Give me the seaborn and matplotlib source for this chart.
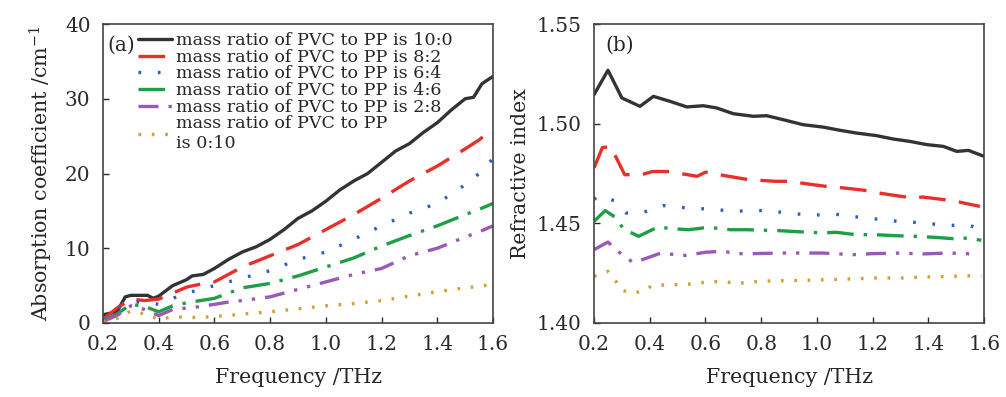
import pandas as pd
import matplotlib.pyplot as plt
import seaborn as sns

# Datos (a): coeficiente de absorcion
freq_a = [0.2, 0.25, 0.28, 0.3, 0.33, 0.36, 0.38, 0.4, 0.45, 0.5, 0.52, 0.56, 0.6, 0.65, 0.7, 0.75,
          0.8, 0.85, 0.9, 0.95, 1.0, 1.05, 1.1, 1.15, 1.2, 1.25, 1.3, 1.35, 1.4, 1.45, 1.5, 1.53, 1.56, 1.6]
abs_100 = [1.1, 1.5, 3.5, 3.7, 3.7, 3.7, 3.3, 3.6, 5.0, 5.8, 6.3, 6.5, 7.3, 8.5, 9.5, 10.2,
           11.2, 12.5, 14.0, 15.0, 16.3, 17.8, 19.0, 20.0, 21.5, 23.0, 24.0, 25.5, 26.8, 28.5, 30.0, 30.2, 32.0, 33.0]

freq_b5 = [0.2, 0.25, 0.3, 0.35, 0.4, 0.45, 0.5, 0.55, 0.6, 0.65, 0.7, 0.8, 0.9, 1.0, 1.1, 1.2, 1.3, 1.4, 1.5, 1.55, 1.6]
abs_82 = [0.5, 2.0, 3.2, 3.0, 3.2, 4.0, 4.8, 5.2, 5.5, 6.5, 7.5, 9.0, 10.5, 12.5, 14.5, 16.7, 19.0, 21.0, 23.3, 24.5, 26.0]
abs_64 = [0.5, 2.0, 2.8, 2.8, 2.5, 3.3, 4.0, 4.5, 5.0, 5.5, 6.0, 7.0, 8.5, 9.5, 11.2, 13.0, 14.7, 16.0, 18.5, 20.0, 22.0]
abs_46 = [0.3, 1.2, 2.5, 2.2, 1.5, 2.3, 2.7, 3.0, 3.3, 4.0, 4.7, 5.3, 6.3, 7.5, 8.7, 10.3, 11.7, 13.0, 14.5, 15.2, 16.0]
abs_28 = [0.2, 1.0, 2.3, 1.8, 1.0, 1.8, 2.0, 2.2, 2.5, 2.8, 3.0, 3.5, 4.5, 5.5, 6.5, 7.3, 9.0, 10.0, 11.5, 12.2, 13.0]
abs_010 = [0.1, 0.6, 1.6, 1.2, 0.5, 0.8, 0.8, 0.7, 0.9, 1.0, 1.2, 1.5, 1.9, 2.3, 2.6, 3.0, 3.6, 4.2, 4.7, 4.9, 5.2]

# Datos (b): indice de refraccion
freq_n0 = [0.2, 0.25, 0.3, 0.365, 0.413, 0.473, 0.533, 0.592, 0.64, 0.7, 0.772, 0.82, 0.879, 0.95,
           1.022, 1.082, 1.142, 1.214, 1.274, 1.334, 1.394, 1.454, 1.502, 1.544, 1.6]
n_100 = [1.5146, 1.5268, 1.5129, 1.5087, 1.5137, 1.5112, 1.5084, 1.509, 1.5079, 1.505, 1.5037, 1.504, 1.502, 1.4995,
         1.4983, 1.4967, 1.4953, 1.494, 1.4923, 1.4911, 1.4895, 1.4886, 1.4861, 1.4866, 1.4836]

freq_n1 = [0.2, 0.23, 0.26, 0.31, 0.37, 0.41, 0.47, 0.51, 0.57, 0.6, 0.67, 0.755, 0.85, 0.9, 0.97, 1.03, 1.08,
           1.17, 1.2, 1.26, 1.345, 1.38, 1.455, 1.5, 1.585]
n_82 = [1.4778, 1.488, 1.4885, 1.4744, 1.4744, 1.476, 1.476, 1.475, 1.4736, 1.4757, 1.4739, 1.4719, 1.4711, 1.4711,
        1.4697, 1.4686, 1.468, 1.4666, 1.4657, 1.4644, 1.4627, 1.4632, 1.4619, 1.461, 1.4585]

freq_n2 = [0.2, 0.216, 0.272, 0.315, 0.37, 0.45, 0.51, 0.58, 0.64, 0.7, 0.76, 0.82, 0.85, 0.93, 1.0, 1.06,
           1.13, 1.21, 1.29, 1.35, 1.41, 1.49, 1.54, 1.6]
n_64 = [1.462, 1.4639, 1.4614, 1.4552, 1.4552, 1.4589, 1.458, 1.4574, 1.4569, 1.456, 1.4564, 1.4564, 1.4559, 1.4547,
        1.4542, 1.4547, 1.4534, 1.4522, 1.451, 1.4505, 1.4497, 1.449, 1.4492, 1.4468]

freq_n3 = [0.2, 0.24, 0.28, 0.305, 0.36, 0.43, 0.48, 0.54, 0.61, 0.69, 0.75, 0.87, 0.945, 1.02, 1.07, 1.14,
           1.21, 1.28, 1.35, 1.42, 1.49, 1.54, 1.59]
n_46 = [1.451, 1.4564, 1.4527, 1.4472, 1.4435, 1.4482, 1.4473, 1.4468, 1.448, 1.4468, 1.4468, 1.4463, 1.4457, 1.4452,
        1.4455, 1.4443, 1.4443, 1.4438, 1.4435, 1.443, 1.4423, 1.4426, 1.4415]

freq_n4 = [0.2, 0.25, 0.3, 0.34, 0.38, 0.44, 0.49, 0.53, 0.6, 0.665, 0.71, 0.77, 0.87, 0.97, 1.02, 1.13,
           1.2, 1.31, 1.37, 1.47, 1.54, 1.57]
n_28 = [1.4368, 1.4406, 1.4343, 1.4304, 1.4321, 1.4351, 1.4343, 1.4339, 1.4355, 1.436, 1.4348, 1.4348, 1.4351, 1.4351,
        1.4351, 1.4343, 1.4348, 1.4351, 1.4346, 1.4351, 1.4348, 1.4339]

freq_n5 = [0.2, 0.25, 0.275, 0.3, 0.34, 0.38, 0.41, 0.49, 0.57, 0.61, 0.69, 0.74, 0.79, 0.86, 0.96, 1.03,
           1.12, 1.21, 1.31, 1.39, 1.49, 1.54, 1.59]
n_010 = [1.4234, 1.4259, 1.4217, 1.4164, 1.415, 1.4162, 1.4189, 1.4192, 1.4197, 1.4209, 1.4204, 1.42, 1.4209, 1.4212,
         1.4214, 1.4217, 1.4221, 1.4226, 1.4226, 1.4231, 1.4234, 1.4237, 1.4234]

etiquetas = ['mass ratio of PVC to PP is 10:0', 'mass ratio of PVC to PP is 8:2',
             'mass ratio of PVC to PP is 6:4', 'mass ratio of PVC to PP is 4:6',
             'mass ratio of PVC to PP is 2:8', 'mass ratio of PVC to PP\nis 0:10']
colores = ['#333333', '#e8302a', '#2a5fc0', '#1f9e45', '#9b59b6', '#d4a030']
estilos = ['-', (0, (8, 4)), (0, (0.8, 5)), (0, (8, 3, 1, 3)), (0, (6, 3, 1, 3, 1, 3)), (0, (0.8, 3.2))]

sns.set_style('ticks')
plt.rcParams['font.family'] = ['DejaVu Serif']
plt.rcParams['mathtext.fontset'] = 'dejavuserif'

fig = plt.figure(figsize=(10.06, 3.97), dpi=100)
ax1 = fig.add_axes([0.1024, 0.1864, 0.3877, 0.7531])
ax2 = fig.add_axes([0.5905, 0.1864, 0.3877, 0.7531])

# Grafico (a)
series_a = [(freq_a, abs_100), (freq_b5, abs_82), (freq_b5, abs_64), (freq_b5, abs_46), (freq_b5, abs_28), (freq_b5, abs_010)]
for (x, y), lab, c, ls in zip(series_a, etiquetas, colores, estilos):
    sns.lineplot(x=x, y=y, ax=ax1, color=c, linestyle=ls, linewidth=2.4, label=lab)

# Grafico (b)
series_b = [(freq_n0, n_100), (freq_n1, n_82), (freq_n2, n_64), (freq_n3, n_46), (freq_n4, n_28), (freq_n5, n_010)]
for (x, y), c, ls in zip(series_b, colores, estilos):
    sns.lineplot(x=x, y=y, ax=ax2, color=c, linestyle=ls, linewidth=2.4)

ax1.set_xlim(0.2, 1.6)
ax1.set_ylim(0, 40)
ax1.set_yticks([0, 10, 20, 30, 40])
ax2.set_xlim(0.2, 1.6)
ax2.set_ylim(1.40, 1.55)
ax2.set_yticks([1.40, 1.45, 1.50, 1.55])
ax2.set_yticklabels(['1.40', '1.45', '1.50', '1.55'])

for ax in (ax1, ax2):
    ax.set_xticks([0.2, 0.4, 0.6, 0.8, 1.0, 1.2, 1.4, 1.6])
    ax.set_xticklabels(['0.2', '0.4', '0.6', '0.8', '1.0', '1.2', '1.4', '1.6'])
    ax.tick_params(direction='in', length=4, width=1, labelsize=14.5, colors='#2a2a2a', pad=9)
    for sp in ax.spines.values():
        sp.set_visible(True)
        sp.set_color('#444444')
        sp.set_linewidth(1.2)
    ax.set_xlabel('Frequency /THz', fontsize=14.8, labelpad=10)

ax1.set_ylabel('Absorption coefficient /cm$^{-1}$', fontsize=14.8, labelpad=7)
ax2.set_ylabel('Refractive index', fontsize=14.8, labelpad=5)

ax1.text(0.01, 0.93, '(a)', transform=ax1.transAxes, fontsize=14.5, va='center', ha='left')
ax2.text(0.03, 0.93, '(b)', transform=ax2.transAxes, fontsize=14.5, va='center', ha='left')

ax1.legend(loc='upper left', bbox_to_anchor=(0.065, 1.005), frameon=False, fontsize=12.6,
           handlelength=1.95, handletextpad=0.2, labelspacing=-0.02, borderaxespad=0.15)

fig.savefig('out.png', dpi=100)
